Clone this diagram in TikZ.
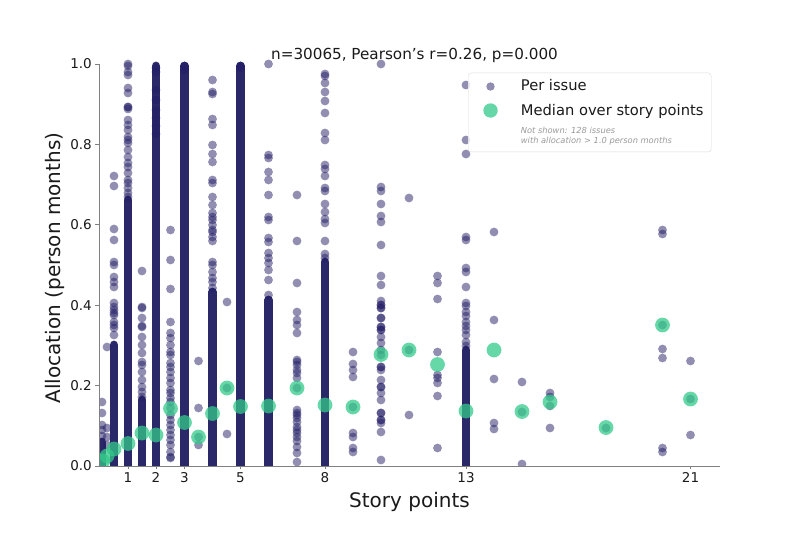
\documentclass[tikz,border=0pt]{standalone}
\usepackage{fontspec}
\setmainfont{DejaVu Sans}
\definecolor{navy}{HTML}{231E66}
\definecolor{navybar}{HTML}{2B2869}
\definecolor{medgreen}{HTML}{33C98A}
\definecolor{spine}{HTML}{808080}
\definecolor{ink}{HTML}{1A1A1A}
\definecolor{notegray}{HTML}{9A9A9A}
\newcommand\dotcol[2]{\foreach \yy in {#2}{\fill[dot] (#1,\yy) circle[radius=4.4pt];}}
\newcommand\medpt[2]{\fill[med] (#1,#2) circle[radius=7.4pt];}
\begin{document}
\begin{tikzpicture}[x=1pt,y=-1pt,
  dot/.style={fill=navy,fill opacity=0.5},
  bar/.style={draw=navybar,line width=8.8pt,line cap=round},
  med/.style={fill=medgreen,fill opacity=0.75},
  spineline/.style={draw=spine,line width=1pt},
  ticklab/.style={font=\fontsize{13.5}{15}\selectfont,text=ink,inner sep=0pt},
  axlab/.style={font=\fontsize{20}{24}\selectfont,text=ink,inner sep=0pt},
  leglab/.style={font=\fontsize{14.7}{17}\selectfont,text=ink,inner sep=0pt,anchor=base west},
  notelab/.style={font=\fontsize{8.3}{10}\selectfont\itshape,text=notegray,inner sep=0pt,anchor=base west}]
\useasboundingbox (0,0) rectangle (800,533);

\begin{scope}
\clip (99,56) rectangle (722,466);
% dense bars
\draw[bar] (102,442) -- (102,470);
\draw[bar] (114,345) -- (114,470);
\draw[bar] (128,200) -- (128,470);
\draw[bar] (142,400) -- (142,470);
\draw[bar] (156,66) -- (156,470);
\draw[bar] (184.5,66) -- (184.5,470);
\draw[bar] (212.5,292) -- (212.5,470);
\draw[bar] (240.5,66) -- (240.5,470);
\draw[bar] (268.5,300) -- (268.5,470);
\draw[bar] (325,262) -- (325,470);
\draw[bar] (466,350) -- (466,470);
% scattered points
\dotcol{102}{402,413,425,430,436}
\dotcol{107}{347,428,437,445}
\dotcol{114}{176,186,229,240,262,265,277,282,287,303,307,310,313,315,322,325,328,335}
\dotcol{128}{64,66,72,75,88,93,107,107,109,120,125,130,137,140,143,150,157,163,167,173,180,183,188,193,197}
\dotcol{142}{271,307,308,318,326,327,337,345,353,362,365,372,380,387,392,397}
\dotcol{156}{68,72,90,100,110,118,126,134}
\dotcol{170.5}{230,260,289,322,333,338,345,352,355,363,367,372,378,383,390,393,398,402,408,415,420,425,430,435,440,445,452,457,458}
\dotcol{184.5}{66,70}
\dotcol{198.5}{361,408,437,445}
\dotcol{212.5}{80,92,94,119,125,145,154,162,180,183,197,205,213,217,220,225,230,232,237,241,262,265,272,278,282,288}
\dotcol{227}{302,388,434}
\dotcol{240.5}{66,68}
\dotcol{268.5}{64,155,158,172,180,195,217,220,238,242,253,258,263,270,280,295}
\dotcol{297}{195,241,283,312,320,325,333,360,362,365,370,373,378,388,410,413,415,418,422,427,430,433,437,441,447,453,462}
\dotcol{325}{74,76,83,92,101,113,133,140,165,169,176,188,191,204,212,219,223,241,254,258}
\dotcol{353}{352,364,370,377,407,433,437,448,452}
\dotcol{381}{64,187,191,204,216,222,245,276,285,301,305,305,308,308,318,318,327,327,330,330,337,343,350,355,367,367,370,380,387,387,393,400,413,413,420,420,423,432,460}
\dotcol{409}{198,350,415}
\dotcol{437.5}{276,283,299,352,375,378,383,396,448}
\dotcol{466}{85,140,154,237,240,268,272,287,303,306,312,316,322,326,330,335,342,346}
\dotcol{494}{232,320,379,423,429}
\dotcol{522}{382,412,464}
\dotcol{550}{393,397,406,428}
\dotcol{606}{428}
\dotcol{662.5}{230,234,325,349,358,448,452}
\dotcol{690.5}{361,399,435}
% medians
\medpt{103}{461}
\medpt{107}{456}
\medpt{114}{449}
\medpt{128}{443.5}
\medpt{142}{433}
\medpt{156}{435}
\medpt{170.5}{408.5}
\medpt{184.5}{422.5}
\medpt{198.5}{437}
\medpt{212.5}{413.5}
\medpt{227}{388}
\medpt{240.5}{406.5}
\medpt{268.5}{406}
\medpt{297}{388}
\medpt{325}{405}
\medpt{353}{407}
\medpt{381}{354.5}
\medpt{409}{350}
\medpt{437.5}{364.5}
\medpt{466}{411}
\medpt{494}{350}
\medpt{522}{411.5}
\medpt{550}{402}
\medpt{606}{427.5}
\medpt{662.5}{325}
\medpt{690.5}{399}
\end{scope}

% axes
\coordinate (o) at (99,466);
\coordinate (ytop) at (99,64);
\coordinate (xend) at (720,466);
\draw[spineline] (ytop) -- (o) -- (xend);
\foreach \v/\yy in {0.0/466,0.2/385.6,0.4/305.2,0.6/224.8,0.8/144.4,1.0/64}{
  \draw[spineline] (95,\yy) -- (99,\yy);
  \node[ticklab,anchor=east] (yl\v) at (92,\yy) {\v};
}
\foreach \v/\xx in {1/128,2/156,3/184.5,5/240.5,8/325,13/466,21/690.5}{
  \draw[spineline] (\xx,466) -- (\xx,469);
  \node[ticklab,anchor=north] (xl\v) at (\xx,472) {\v};
}
\node[axlab,anchor=base] (xlabel) at (409.5,507.5) {Story points};
\node[axlab,rotate=90] (ylabel) at (55,268) {Allocation (person months)};
\node[font=\fontsize{15.2}{18}\selectfont,text=ink,inner sep=0pt,anchor=base] (title) at (414.5,59) {n=30065, Pearson's r=0.26, p=0.000};

% legend
\node[draw=black!14,fill=white,fill opacity=0.8,rounded corners=3pt,minimum width=243pt,minimum height=79pt,anchor=north west,inner sep=0pt] (legend) at (468,72.7) {};
\fill[dot] (490.5,86.5) circle[radius=4.2pt];
\fill[med] (490.5,110.5) circle[radius=7.2pt];
\node[leglab] (leg1) at (520.7,90.7) {Per issue};
\node[leglab] (leg2) at (520.7,115.7) {Median over story points};
\node[notelab] (note1) at (520.7,133.3) {Not shown: 128 issues};
\node[notelab] (note2) at (520.7,143.3) {with allocation > 1.0 person months};
\end{tikzpicture}
\end{document}
